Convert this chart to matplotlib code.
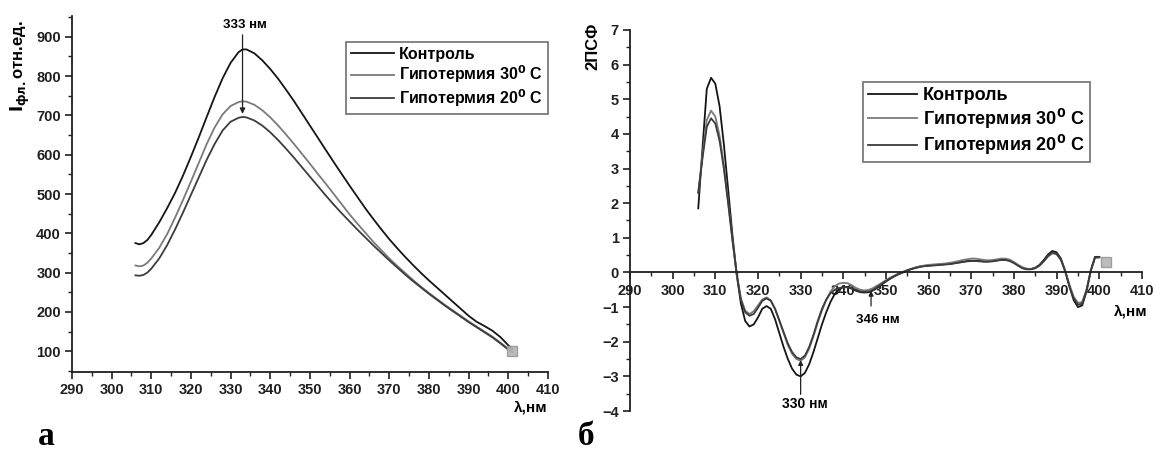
import numpy as np
import matplotlib
matplotlib.use("Agg")
import matplotlib.pyplot as plt
from matplotlib.ticker import MultipleLocator

plt.rcParams['font.family'] = ['Liberation Sans', 'DejaVu Sans']
plt.rcParams['mathtext.fontset'] = 'dejavusans'

# ---------------- data: panel a (fluorescence spectra) ----------------
wl_a = [306, 307, 308, 309, 310, 312, 314, 316, 318, 320, 322, 324, 326, 328, 330, 332, 333,
        334, 336, 338, 340, 342, 344, 346, 348, 350, 352, 354, 356, 358, 360, 362, 364,
        366, 368, 370, 372, 374, 376, 378, 380, 382, 384, 386, 388, 390, 392, 394, 396,
        398, 400, 401]
control_a = [375, 372, 375, 383, 396, 428, 464, 503, 547, 595, 645, 697, 748, 795, 834, 861, 868,
             868, 858, 840, 818, 793, 765, 736, 705, 674, 643, 612, 581, 551, 521, 492, 463,
             436, 410, 385, 362, 340, 319, 299, 280, 262, 244, 226, 208, 190, 175, 164, 152,
             136, 115, 106]
hypo30_a = [318, 316, 318, 325, 336, 363, 398, 440, 485, 532, 580, 628, 670, 703, 724, 734, 736,
            735, 727, 713, 695, 674, 651, 627, 602, 577, 551, 526, 500, 474, 448, 424, 401,
            378, 357, 336, 317, 299, 281, 264, 248, 233, 218, 204, 190, 176, 163, 150, 137,
            122, 106, 99]
hypo20_a = [293, 292, 294, 300, 310, 336, 370, 410, 453, 498, 543, 588, 628, 662, 684, 694, 696,
            695, 687, 674, 657, 637, 615, 592, 568, 544, 520, 496, 473, 451, 430, 409, 389,
            369, 350, 331, 313, 295, 278, 262, 246, 231, 216, 202, 188, 174, 161, 148, 135,
            120, 104, 97]

# ---------------- data: panel b (second derivative spectra) ----------------
wl_b = list(range(306, 401))
control_b = [1.85, 3.6, 5.3, 5.62, 5.45, 4.8, 3.7, 2.4, 1.1, -0.05,
             -0.9, -1.4, -1.56, -1.5, -1.3, -1.05, -0.97, -1.05, -1.35, -1.75,
             -2.15, -2.5, -2.78, -2.95, -3.0, -2.9, -2.65, -2.3, -1.9, -1.5,
             -1.15, -0.85, -0.62, -0.48, -0.42, -0.42, -0.47, -0.53, -0.57, -0.58,
             -0.57, -0.52, -0.44, -0.35, -0.26, -0.18, -0.11, -0.05, 0.0, 0.05,
             0.1, 0.14, 0.17, 0.19, 0.2, 0.21, 0.22, 0.23, 0.24, 0.25,
             0.27, 0.29, 0.31, 0.33, 0.34, 0.34, 0.33, 0.32, 0.32, 0.33,
             0.35, 0.37, 0.37, 0.34, 0.28, 0.2, 0.13, 0.1, 0.1, 0.14,
             0.22, 0.36, 0.52, 0.62, 0.58, 0.4, 0.05, -0.4, -0.8, -1.0,
             -0.95, -0.55, 0.05, 0.45, 0.45]
hypo30_b = [2.3, 3.4, 4.4, 4.67, 4.5, 3.95, 3.1, 2.05, 0.95, -0.05,
            -0.75, -1.1, -1.2, -1.12, -0.95, -0.78, -0.72, -0.8, -1.05, -1.4,
            -1.75, -2.1, -2.35, -2.5, -2.55, -2.45, -2.2, -1.85, -1.45, -1.1,
            -0.8, -0.55, -0.4, -0.32, -0.3, -0.31, -0.37, -0.45, -0.5, -0.52,
            -0.5, -0.45, -0.38, -0.3, -0.22, -0.15, -0.09, -0.03, 0.02, 0.07,
            0.11, 0.15, 0.18, 0.2, 0.22, 0.23, 0.24, 0.25, 0.26, 0.28,
            0.3, 0.33, 0.36, 0.38, 0.4, 0.4, 0.38, 0.36, 0.35, 0.36,
            0.38, 0.4, 0.4, 0.37, 0.3, 0.22, 0.15, 0.11, 0.1, 0.13,
            0.2, 0.32, 0.46, 0.55, 0.52, 0.36, 0.05, -0.35, -0.7, -0.88,
            -0.85, -0.5, 0.05, 0.42, 0.43]
hypo20_b = [2.3, 3.3, 4.2, 4.45, 4.3, 3.8, 3.0, 2.0, 0.95, -0.02,
            -0.8, -1.15, -1.25, -1.2, -1.02, -0.82, -0.75, -0.82, -1.05, -1.38,
            -1.72, -2.05, -2.3, -2.45, -2.5, -2.4, -2.15, -1.8, -1.4, -1.05,
            -0.78, -0.6, -0.5, -0.45, -0.43, -0.43, -0.45, -0.5, -0.55, -0.56,
            -0.55, -0.5, -0.42, -0.33, -0.25, -0.17, -0.1, -0.04, 0.01, 0.06,
            0.1, 0.13, 0.16, 0.18, 0.19, 0.2, 0.21, 0.22, 0.23, 0.24,
            0.26, 0.28, 0.3, 0.32, 0.33, 0.33, 0.32, 0.31, 0.31, 0.32,
            0.34, 0.36, 0.36, 0.33, 0.27, 0.19, 0.12, 0.09, 0.09, 0.12,
            0.2, 0.33, 0.48, 0.58, 0.54, 0.37, 0.03, -0.4, -0.75, -0.93,
            -0.9, -0.52, 0.05, 0.44, 0.44]

labels = ['Контроль', r'Гипотермия 30$^\mathbf{0}$ C', r'Гипотермия 20$^\mathbf{0}$ C']
colors = ['#151515', '#7a7a7a', '#3c3c3c']
x_ticks = list(range(290, 411, 10))

fig = plt.figure(figsize=(11.57, 4.55), dpi=100)

def style_axis(ax, tick_fs=10.5):
    for s in ['top', 'right']:
        ax.spines[s].set_visible(False)
    for s in ['left', 'bottom']:
        ax.spines[s].set_linewidth(1.3)
        ax.spines[s].set_color('#202020')
    ax.tick_params(which='major', direction='out', length=5, width=1.2, labelsize=tick_fs,
                   colors='#202020', pad=3)
    ax.tick_params(which='minor', direction='out', length=3, width=1.0, colors='#202020')
    for lab in ax.get_xticklabels() + ax.get_yticklabels():
        lab.set_fontweight('bold')

# ---------------- panel a ----------------
ax1 = fig.add_axes([0.0622, 0.1824, 0.4114, 0.7824])
for ys, lab, c in zip([control_a, hypo30_a, hypo20_a], labels, colors):
    ax1.plot(wl_a, ys, color=c, lw=1.3, label=lab)
ax1.plot([wl_a[-1]], [np.mean([control_a[-1], hypo30_a[-1], hypo20_a[-1]])], marker='s',
         ms=7, color='#b5b5b5', mec='#999999', alpha=0.9, zorder=5)
ax1.set_xlim(290, 410)
ax1.set_ylim(47, 953)
ax1.set_xticks(x_ticks)
ax1.xaxis.set_minor_locator(MultipleLocator(5))
ax1.set_yticks(range(100, 901, 100))
ax1.yaxis.set_minor_locator(MultipleLocator(50))
style_axis(ax1)
ax1.annotate('', xy=(333, 697), xytext=(333, 912),
             arrowprops=dict(arrowstyle='-|>', color='#202020', lw=0.9, mutation_scale=8))
ax1.text(333.7, 930, '333 нм', ha='center', va='center', fontsize=9.5, fontweight='bold')
leg1 = ax1.legend(loc='upper right', bbox_to_anchor=(1.0, 0.927), borderaxespad=0,
                  fontsize=11.5, handlelength=2.7, handletextpad=0.3, labelspacing=0.12,
                  borderpad=0.3, fancybox=False, framealpha=1)
leg1.get_frame().set_edgecolor('#707070')
leg1.get_frame().set_linewidth(1.2)
for t in leg1.get_texts():
    t.set_fontweight('bold')
ax1.text(1.0, -0.10, 'λ,нм', transform=ax1.transAxes, ha='right', va='center',
         fontsize=11, fontweight='bold')
fig.text(20 / 1157, 1 - 66 / 455, r'$\mathbf{I}_{\mathbf{фл.}}$' + 'отн.ед.', rotation=90,
         ha='center', va='center', fontsize=12, fontweight='bold')

# ---------------- panel b ----------------
ax2 = fig.add_axes([0.5445, 0.0967, 0.4425, 0.8374])
for ys, lab, c in zip([control_b, hypo30_b, hypo20_b], labels, colors):
    ax2.plot(wl_b, ys, color=c, lw=1.3, label=lab)
ax2.plot([wl_b[-1] + 1.5], [np.mean([control_b[-1], hypo30_b[-1], hypo20_b[-1]]) - 0.15],
         marker='s', ms=7, color='#b5b5b5', mec='#999999', alpha=0.9, zorder=5)
ax2.set_xlim(290, 410)
ax2.set_ylim(-4, 7)
ax2.spines['bottom'].set_position(('data', 0))
ax2.set_xticks(x_ticks)
ax2.xaxis.set_minor_locator(MultipleLocator(5))
ax2.set_yticks(range(-4, 8))
ax2.yaxis.set_minor_locator(MultipleLocator(0.5))
style_axis(ax2)
ax2.annotate('', xy=(330, -2.45), xytext=(330, -3.6),
             arrowprops=dict(arrowstyle='-|>', color='#202020', lw=0.9, mutation_scale=7))
ax2.text(331.0, -3.8, '330 нм', ha='center', va='center', fontsize=10, fontweight='bold')
ax2.annotate('', xy=(346.5, -0.45), xytext=(346.5, -1.05),
             arrowprops=dict(arrowstyle='-|>', color='#202020', lw=0.9, mutation_scale=7))
ax2.text(348.0, -1.37, '346 нм', ha='center', va='center', fontsize=9.5, fontweight='bold')
leg2 = ax2.legend(loc='upper left', bbox_to_anchor=(0.455, 0.8635), borderaxespad=0,
                  fontsize=13, handlelength=2.7, handletextpad=0.3, labelspacing=0.12,
                  borderpad=0.3, fancybox=False, framealpha=1)
leg2.get_frame().set_edgecolor('#707070')
leg2.get_frame().set_linewidth(1.2)
for t in leg2.get_texts():
    t.set_fontweight('bold')
ax2.text(1.01, 0.26, 'λ,нм', transform=ax2.transAxes, ha='right', va='center',
         fontsize=11, fontweight='bold')
fig.text(593 / 1157, 1 - 46 / 455, '2ПСФ', rotation=90, ha='center', va='center',
         fontsize=12, fontweight='bold')

# panel letters
fig.text(38 / 1157, 1 - 445 / 455, 'а', ha='left', va='baseline', fontsize=24,
         fontweight='bold', family=['Liberation Serif', 'DejaVu Serif'])
fig.text(578 / 1157, 1 - 445 / 455, 'б', ha='left', va='baseline', fontsize=24,
         fontweight='bold', family=['Liberation Serif', 'DejaVu Serif'])

fig.savefig('out.png', dpi=100)
